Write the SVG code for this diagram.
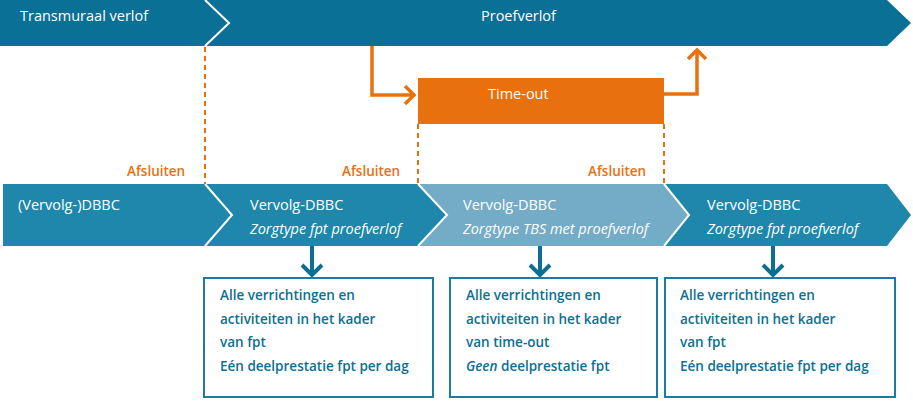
<svg xmlns="http://www.w3.org/2000/svg" width="913" height="401" viewBox="0 0 913 401">
<style>
.w{fill:#fff;font-family:"Open Sans","Noto Sans",sans-serif;font-size:14.5px}
.i{font-style:italic}
.af{fill:#e8700f;font-family:"Open Sans","Noto Sans",sans-serif;font-size:13.5px;font-weight:600}
.bt{fill:#0b6f94;font-family:"Open Sans","Noto Sans",sans-serif;font-size:13.5px;font-weight:600}
.box{fill:#fff;stroke:#1a7ca2;stroke-width:2}
.dash{stroke:#e8700f;stroke-width:2;stroke-dasharray:5,4;fill:none}
.oa{stroke:#e8700f;stroke-width:3.5;fill:none}
.ba{stroke:#0b6f94;stroke-width:4;fill:none}
.sep{stroke:#fff;stroke-width:2;fill:none}
</style>
<g id="top-bar">
<polygon points="0,0 887,0 911,23 887,46 0,46" fill="#0b7095"/>
<polyline class="sep" points="205,0 229,23 205,46"/>
<text class="w" x="20" y="21">Transmuraal verlof</text>
<text class="w" x="481" y="21">Proefverlof</text>
</g>
<g id="timeout">
<rect x="418" y="78" width="246" height="46" fill="#e8700f"/>
<text class="w" x="488" y="99">Time-out</text>
</g>
<g id="dbbc1">
<polygon points="3,184 205,184 232,215 205,246 3,246" fill="#1f87ab"/>
<text class="w" x="18" y="210">(Vervolg-)DBBC</text>
</g>
<g id="dbbc2">
<polygon points="205,184 418,184 447,215 418,246 205,246 232,215" fill="#1f87ab"/>
<text class="w" x="250" y="210">Vervolg-DBBC</text>
<text class="w i" x="250" y="234">Zorgtype fpt proefverlof</text>
</g>
<g id="dbbc3">
<polygon points="418,184 664,184 689,215 664,246 418,246 447,215" fill="#74abc7"/>
<text class="w" x="463" y="210">Vervolg-DBBC</text>
<text class="w i" x="463" y="234">Zorgtype TBS met proefverlof</text>
</g>
<g id="dbbc4">
<polygon points="664,184 887,184 911,215 887,246 664,246 689,215" fill="#1f87ab"/>
<text class="w" x="707" y="210">Vervolg-DBBC</text>
<text class="w i" x="707" y="234">Zorgtype fpt proefverlof</text>
</g>
<g id="separators">
<polyline class="sep" points="205,184 232,215 205,246"/>
<polyline class="sep" points="418,184 447,215 418,246"/>
<polyline class="sep" points="664,184 689,215 664,246"/>
</g>
<g id="labels">
<text class="af" x="127" y="176">Afsluiten</text>
<text class="af" x="342" y="176">Afsluiten</text>
<text class="af" x="588" y="176">Afsluiten</text>
</g>
<g id="box1">
<rect class="box" x="204" y="278" width="229" height="119"/>
<text class="bt" x="220" y="300">Alle verrichtingen en</text>
<text class="bt" x="220" y="324">activiteiten in het kader</text>
<text class="bt" x="220" y="347">van fpt</text>
<text class="bt" x="220" y="371">Eén deelprestatie fpt per dag</text>
</g>
<g id="box2">
<rect class="box" x="450" y="278" width="207" height="119"/>
<text class="bt" x="466" y="300">Alle verrichtingen en</text>
<text class="bt" x="466" y="324">activiteiten in het kader</text>
<text class="bt" x="466" y="347">van time-out</text>
<text class="bt" x="466" y="371"><tspan font-style="italic">Geen</tspan> deelprestatie fpt</text>
</g>
<g id="box3">
<rect class="box" x="665" y="278" width="230" height="119"/>
<text class="bt" x="680" y="300">Alle verrichtingen en</text>
<text class="bt" x="680" y="324">activiteiten in het kader</text>
<text class="bt" x="680" y="347">van fpt</text>
<text class="bt" x="680" y="371">Eén deelprestatie fpt per dag</text>
</g>
<g id="connectors">
<line class="dash" x1="205" y1="47" x2="205" y2="184"/>
<line class="dash" x1="418" y1="124" x2="418" y2="184"/>
<line class="dash" x1="664" y1="124" x2="664" y2="184"/>
<polyline class="oa" points="372,46 372,95 414,95"/>
<polyline class="oa" points="405,86 414,95 405,104"/>
<polyline class="oa" points="664,94 697,94 697,50"/>
<polyline class="oa" points="688,59 697,50 706,59"/>
<line class="ba" x1="312" y1="246" x2="312" y2="276"/>
<polyline class="ba" points="302,265 312,275 322,265"/>
<line class="ba" x1="540" y1="246" x2="540" y2="276"/>
<polyline class="ba" points="530,265 540,275 550,265"/>
<line class="ba" x1="773" y1="246" x2="773" y2="276"/>
<polyline class="ba" points="763,265 773,275 783,265"/>
</g>
</svg>
